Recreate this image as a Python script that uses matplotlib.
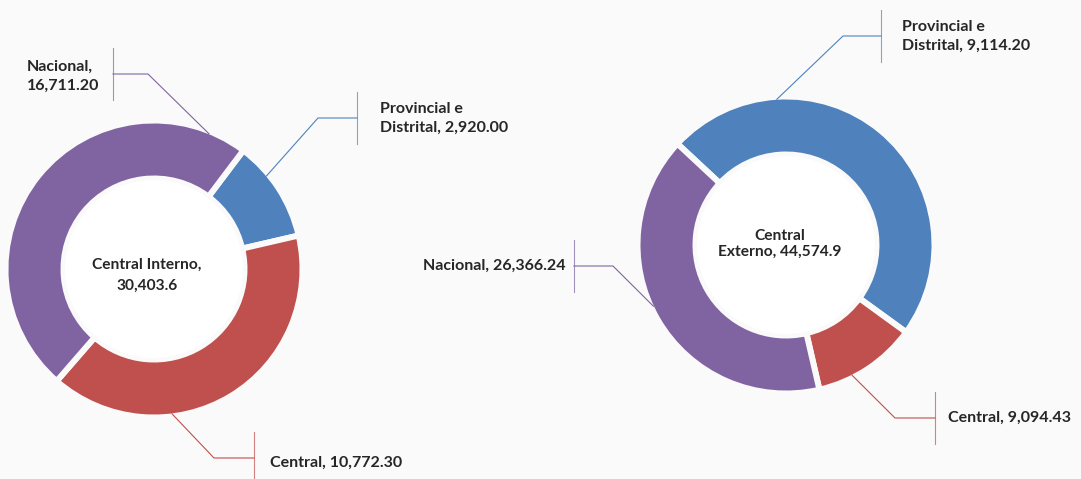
import matplotlib.pyplot as plt
import numpy as np

# slice values printed on the labels
left_names = ["Provincial e Distrital", "Central", "Nacional"]
left_values = [2920.00, 10772.30, 16711.20]
left_total = 30403.6
left_title = "Central Interno,"

right_names = ["Provincial e Distrital", "Central", "Nacional"]
right_values = [9114.20, 9094.43, 26366.24]
right_total = 44574.9
right_title = "Central\nExterno,"

# ring shares as they are drawn in the picture (%)
left_shares = [11.1, 40.0, 48.9]
right_shares = [48.1, 11.4, 40.6]

colors = ["#4f81bd", "#c0504d", "#8064a2"]
BG = "#fafafa"
TXT = "#262626"
H = 479
FS = 11.5

plt.rcParams["font.family"] = ["Lato", "DejaVu Sans"]

fig = plt.figure(figsize=(10.81, 4.79), dpi=100, facecolor=BG)
ax = fig.add_axes([0, 0, 1, 1])
ax.set_facecolor(BG)


def donut(center, shares, start):
    ax.pie(shares, colors=colors, startangle=start, counterclock=False,
           radius=148.5, center=center,
           wedgeprops=dict(width=58, edgecolor=BG, linewidth=4.3))
    ax.add_patch(plt.Circle(center, 89, facecolor="white", edgecolor="none"))


def leader(center, ang, elbow, bar_x, color, text, tx, ha, ty=None):
    a = np.deg2rad(ang)
    p = (center[0] + 146 * np.cos(a), center[1] + 146 * np.sin(a))
    ex, ey = elbow[0], H - elbow[1]
    ax.plot([p[0], ex, bar_x], [p[1], ey, ey], color=color, lw=0.8)
    ax.plot([bar_x, bar_x], [ey - 26, ey + 26], color=color, lw=0.8, alpha=0.7)
    ax.text(tx, H - (ty if ty is not None else elbow[1]), text, ha=ha,
            va="center", ma="left", fontsize=FS, fontweight="bold",
            color=TXT, linespacing=1.45)


lc = (154, H - 269)
rc = (786, H - 245)
donut(lc, left_shares, 53)
donut(rc, right_shares, 137)

ax.text(lc[0] - 7, lc[1] - 6, f"{left_title}\n{left_total:,.1f}", ha="center",
        va="center", fontsize=11.2, fontweight="bold", color=TXT, linespacing=1.6)
ax.text(rc[0] - 6, rc[1] + 1, f"{right_title} {right_total:,.1f}", ha="center",
        va="center", fontsize=11.2, fontweight="bold", color=TXT, linespacing=1.2)

# left donut labels
leader(lc, 39.6, (318, 118), 357, colors[0],
       f"Provincial e\nDistrital, {left_values[0]:,.2f}", 380, "left")
leader(lc, -82.9, (214, 458), 254, colors[1],
       f"Central, {left_values[1]:,.2f}", 270, "left", ty=463)
leader(lc, 67.9, (148, 74), 113, colors[2],
       f"Nacional,\n{left_values[2]:,.2f}", 99, "right", ty=76)

# right donut labels
leader(rc, 93.6, (843, 36), 881, colors[0],
       f"Provincial e\nDistrital, {right_values[0]:,.2f}", 902, "left")
leader(rc, -63.1, (895, 418), 935, colors[1],
       f"Central, {right_values[1]:,.2f}", 948, "left")
leader(rc, 204.8, (613, 266), 574, colors[2],
       f"Nacional, {right_values[2]:,.2f}", 566, "right")

ax.set_xlim(0, 1081)
ax.set_ylim(0, H)
ax.set_aspect("equal")
ax.axis("off")

fig.savefig("out.png", dpi=100, facecolor=BG)
